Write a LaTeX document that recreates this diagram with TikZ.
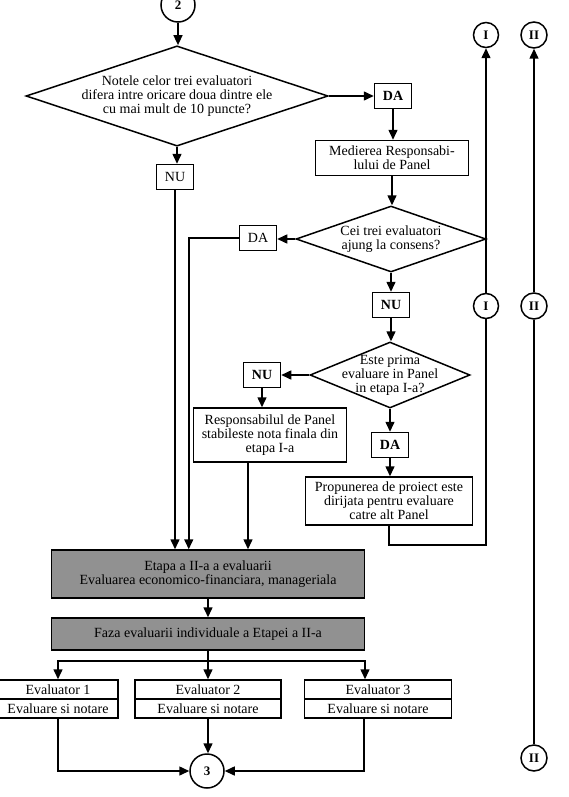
\documentclass[tikz,border=0pt]{standalone}
\usepackage{fontspec}
\setmainfont{Liberation Serif}
\usetikzlibrary{calc,arrows.meta,shapes.geometric}
\definecolor{etgray}{RGB}{145,145,145}

\begin{document}
\begin{tikzpicture}[x=1pt,y=-1pt,line width=1.5pt,>={Triangle[length=10pt,width=9pt]},
  every node/.style={font=\fontsize{14}{14}\selectfont,align=center,inner sep=0pt},
  dia/.style 2 args={draw,diamond,aspect=2.5,inner sep=-6pt,minimum width=#1,minimum height=#2},
  ans/.style={draw,minimum width=37,minimum height=25},
  bans/.style={ans,font=\bfseries\fontsize{14}{14}\selectfont},
  box/.style 2 args={draw,minimum width=#1,minimum height=#2},
  gbox/.style={draw,fill=etgray,minimum width=313,minimum height=#1},
  evbox/.style={draw,minimum width=#1,minimum height=38,font=\fontsize{14}{19}\selectfont},
  conn/.style={draw,circle,minimum size=#1,font=\fontsize{13}{13}\selectfont\bfseries}]
\useasboundingbox (0,0) rectangle (569,797);
\node[conn=34] (c2) at (178,5) {2};
\node[dia={302}{100}] (d1) at (177,96) {Notele celor trei evaluatori\\difera intre oricare doua dintre ele\\cu mai mult de 10 puncte?};
\node[ans] (nu1) at (175,177) {NU};
\node[bans] (da1) at (393,96) {DA};
\node[box={153}{35}] (med) at (392,158) {Medierea Responsabi-\\lului de Panel};
\node[dia={190}{66}] (d2) at (391,239) {Cei trei evaluatori\\ajung la consens?};
\node[ans] (da2) at (258,238) {DA};
\node[bans] (nu2) at (391,305) {NU};
\node[dia={160}{66}] (d3) at (390,375) {Este prima\\evaluare in Panel\\in etapa I-a?};
\node[bans] (nu3) at (262,375) {NU};
\node[box={153}{54}] (resp) at (270,435) {Responsabilul de Panel\\stabileste nota finala din\\etapa I-a};
\node[bans] (da3) at (390,445) {DA};
\node[box={167}{48}] (prop) at (389,501) {Propunerea de proiect este\\dirijata pentru evaluare\\catre alt Panel};
\node[conn=25] (cI1) at (486,35) {I};
\node[conn=25] (cI2) at (486,306) {I};
\node[conn=26] (cII1) at (534,35) {II};
\node[conn=26] (cII2) at (534,306) {II};
\node[conn=26] (cII3) at (534,758) {II};
\node[gbox=48] (et) at (208,574) {Etapa a II-a a evaluarii\\Evaluarea economico-financiara, manageriala};
\node[gbox=32] (fz) at (208,634) {Faza evaluarii individuale a Etapei a II-a};
\node[evbox=120] (ev1) at (58,699) {Evaluator 1\\Evaluare si notare};
\node[evbox=146] (ev2) at (208,699) {Evaluator 2\\Evaluare si notare};
\node[evbox=147] (ev3) at (378,699) {Evaluator 3\\Evaluare si notare};
\node[conn=34] (c3) at (207,771) {3};
\draw (ev1.west)--(ev1.east) (ev2.west)--(ev2.east) (ev3.west)--(ev3.east);
\draw[->] (c2)--(c2 |- d1.north);
\draw[->] (d1.south)--(d1.south |- nu1.north);
\draw[->] (nu1)--(nu1 |- et.north);
\draw[->] (d1)--(da1);
\draw[->] (da1)--(da1 |- med.north);
\draw[->] (med)--(med |- d2.north);
\draw[->] (d2.west)--(d2.west -| da2.east);
\draw[->] (da2) -| ([xshift=138]et.north west);
\draw[->] (d2)--(nu2);
\draw[->] (nu2)--(nu2 |- d3.north);
\draw[->] (d3)--(nu3);
\draw[->] (nu3)--(nu3 |- resp.north);
\coordinate (rout) at ([xshift=-22]resp.south);
\draw[->] (rout)--(rout |- et.north);
\draw[->] (d3)--(da3);
\draw[->] (da3)--(da3 |- prop.north);
\draw (prop.south)--++(0,19) -| (cI2);
\draw[->] (cI2)--(cI1);
\draw[->] (cII2)--(cII1);
\draw (cII2)--(cII3);
\draw[->] (et)--(fz);
\draw (fz.south)--++(0,10) coordinate (split);
\draw[->] (split) -| (ev1.north);
\draw[->] (split)--(split |- ev2.north);
\draw[->] (split) -| ([xshift=-13]ev3.north);
\draw[->] (ev1) |- (c3);
\draw[->] (ev2.south)--(ev2.south |- c3.north);
\draw[->] ([xshift=-14]ev3.south) |- (c3);
\end{tikzpicture}
\end{document}
